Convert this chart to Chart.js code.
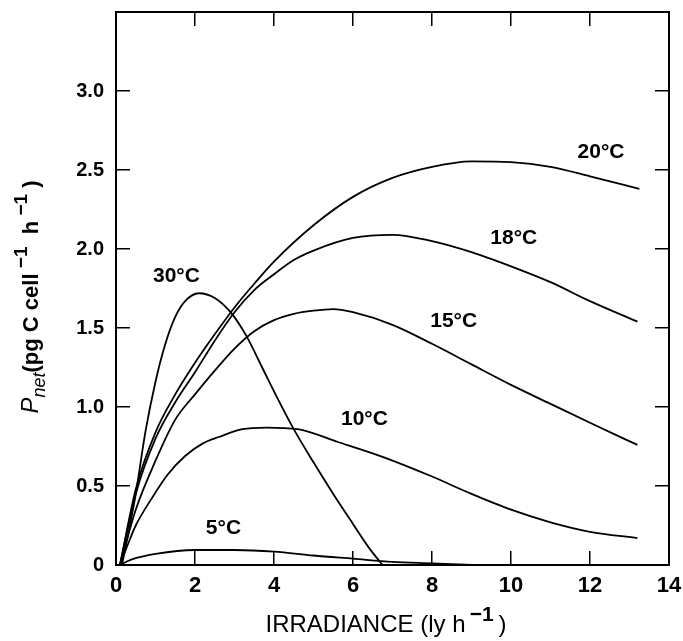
<!DOCTYPE html>
<html>
<head>
<meta charset="utf-8">
<script src="https://cdn.jsdelivr.net/npm/chart.js@4.4.1/dist/chart.umd.min.js"></script>
<style>
  html, body { margin: 0; padding: 0; background: #fff; }
  #wrap { width: 683px; height: 641px; }
</style>
</head>
<body>
<div id="wrap"><canvas id="pnetChart" width="683" height="641"></canvas></div>
<script>
// irradiance (ly h-1) and net photosynthesis (pg C cell-1 h-1)
const irr5 = [0.1, 0.4, 1, 2, 3, 4, 5, 6, 7, 8, 9];
const pnet5 = [0, 0.035, 0.07, 0.095, 0.095, 0.085, 0.06, 0.04, 0.02, 0.01, 0];

const irr10 = [0.1, 0.3, 0.5, 0.9, 1.3, 1.75, 2.2, 2.6, 3.2, 3.8, 4.6, 5.6, 6.8, 8, 9, 10, 11, 12, 13.2];
const pnet10 = [0, 0.13, 0.25, 0.42, 0.57, 0.69, 0.77, 0.81, 0.86, 0.87, 0.86, 0.78, 0.68, 0.56, 0.45, 0.35, 0.27, 0.21, 0.17];

const irr15 = [0.1, 0.5, 1, 1.5, 2, 2.5, 3, 3.5, 4, 4.5, 5, 5.5, 6, 7, 8, 9, 10, 11, 12, 13.2];
const pnet15 = [0, 0.35, 0.66, 0.92, 1.08, 1.23, 1.37, 1.48, 1.55, 1.59, 1.61, 1.62, 1.60, 1.52, 1.40, 1.27, 1.14, 1.02, 0.90, 0.76];

const irr18 = [0.1, 0.5, 1, 1.5, 2, 2.5, 3, 3.5, 4, 4.5, 5, 6, 7, 8, 9, 10, 11, 12, 13.2];
const pnet18 = [0, 0.45, 0.80, 1.03, 1.22, 1.42, 1.60, 1.74, 1.84, 1.93, 1.99, 2.07, 2.09, 2.05, 1.98, 1.89, 1.79, 1.67, 1.54];

const irr20 = [0.1, 0.5, 1, 1.5, 2, 2.5, 3, 3.5, 4, 5, 6, 7, 8, 9, 10, 11, 12, 13.25];
const pnet20 = [0, 0.48, 0.84, 1.08, 1.28, 1.46, 1.63, 1.78, 1.92, 2.15, 2.33, 2.45, 2.52, 2.555, 2.55, 2.52, 2.46, 2.38];

const irr30 = [0.15, 0.48, 0.75, 1.0, 1.25, 1.5, 1.75, 2.1, 2.5, 2.9, 3.3, 3.7, 4.1, 4.5, 5.0, 5.5, 6.0, 6.4, 6.75];
const pnet30 = [0, 0.42, 0.85, 1.16, 1.40, 1.57, 1.67, 1.72, 1.69, 1.60, 1.45, 1.25, 1.05, 0.86, 0.65, 0.45, 0.26, 0.11, 0];

const tempLabels = ['5°C', '10°C', '15°C', '18°C', '20°C', '30°C'];
const tempLabelX = [2.72, 6.29, 8.55, 10.07, 12.28, 1.53];
const tempLabelY = [0.23, 0.92, 1.54, 2.07, 2.61, 1.83];

const xTickLabels = ['0', '2', '4', '6', '8', '10', '12', '14'];
const yTickLabels = ['0', '0.5', '1.0', '1.5', '2.0', '2.5', '3.0', ''];

const series = [[irr5, pnet5], [irr10, pnet10], [irr15, pnet15], [irr18, pnet18], [irr20, pnet20], [irr30, pnet30]];

const FONT = '"Liberation Sans", Arial, Helvetica, sans-serif';

function drawRuns(ctx, runs, cx, baseline) {
    let total = 0;
    runs.forEach(r => { ctx.font = r.font; total += ctx.measureText(r.text).width; });
    let x = cx - total / 2;
    runs.forEach(r => {
        ctx.font = r.font;
        ctx.fillText(r.text, x, baseline + (r.dy || 0));
        x += ctx.measureText(r.text).width;
    });
}

/*labels on the curves and the two axis titles*/
const annotate = {
    id: 'annotate',
    afterDraw(chart) {
        const { ctx, scales: { x, y } } = chart;
        ctx.save();
        ctx.fillStyle = '#000';
        ctx.textAlign = 'center';
        ctx.textBaseline = 'middle';
        ctx.font = 'bold 21px ' + FONT;
        tempLabels.forEach((t, i) => {
            ctx.fillText(t, x.getPixelForValue(tempLabelX[i]), y.getPixelForValue(tempLabelY[i]));
        });

        ctx.textAlign = 'left';
        ctx.textBaseline = 'alphabetic';
        drawRuns(ctx, [
            { text: 'IRRADIANCE (ly h', font: '24px ' + FONT },
            { text: '\u2009\u22121', font: 'bold 21px ' + FONT, dy: -11 },
            { text: '\u2009)', font: '24px ' + FONT }
        ], 386, 632);

        ctx.translate(37.5, 297);
        ctx.rotate(-Math.PI / 2);
        drawRuns(ctx, [
            { text: 'P', font: 'italic 24px ' + FONT },
            { text: 'net', font: 'italic 18px ' + FONT, dy: 7 },
            { text: '(pg C cell', font: 'bold 22px ' + FONT },
            { text: ' \u22121', font: 'bold 19px ' + FONT, dy: -11 },
            { text: '  h', font: 'bold 22px ' + FONT },
            { text: ' \u22121', font: 'bold 19px ' + FONT, dy: -11 },
            { text: ' )', font: 'bold 22px ' + FONT }
        ], 0, 0);
        ctx.restore();
    }
};

const grid = { drawOnChartArea: false, drawTicks: true, tickLength: -14, color: '#000', lineWidth: 1.5 };
const border = { display: true, color: '#000', width: 2 };

function fixBox(w, h) {
    return s => {
        if (w !== null) s.width = w;
        if (h !== null) s.height = h;
        s.paddingLeft = 0; s.paddingRight = 0; s.paddingTop = 0; s.paddingBottom = 0;
    };
}

new Chart(document.getElementById('pnetChart').getContext('2d'), {
    type: 'line',
    data: {
        datasets: series.map((s, i) => ({
            label: tempLabels[i],
            data: s[0].map((v, k) => ({ x: v, y: s[1][k] })),
            borderColor: '#000',
            borderWidth: 1.8,
            pointRadius: 0,
            fill: false,
            cubicInterpolationMode: 'monotone'
        }))
    },
    options: {
        responsive: false,
        animation: false,
        layout: { padding: 0 },
        plugins: { legend: { display: false }, tooltip: { enabled: false } },
        scales: {
            x: {
                type: 'linear', position: 'bottom', min: 0, max: 14,
                grid: grid, border: border,
                ticks: {
                    stepSize: 2, color: '#000', padding: 22,
                    font: { family: FONT, size: 22, weight: 'bold' },
                    callback: (v, i) => xTickLabels[i]
                },
                afterFit: fixBox(null, 76)
            },
            x2: {
                type: 'linear', position: 'top', min: 0, max: 14,
                grid: grid, border: border,
                ticks: { stepSize: 2, display: false },
                afterFit: fixBox(null, 12)
            },
            y: {
                type: 'linear', position: 'left', min: 0, max: 3.5,
                grid: grid, border: border,
                ticks: {
                    stepSize: 0.5, color: '#000', padding: 26,
                    font: { family: FONT, size: 20, weight: 'bold' },
                    callback: (v, i) => yTickLabels[i]
                },
                afterFit: fixBox(116, null)
            },
            y2: {
                type: 'linear', position: 'right', min: 0, max: 3.5,
                grid: grid, border: border,
                ticks: { stepSize: 0.5, display: false },
                afterFit: fixBox(14, null)
            }
        }
    },
    plugins: [annotate]
});
</script>
</body>
</html>
